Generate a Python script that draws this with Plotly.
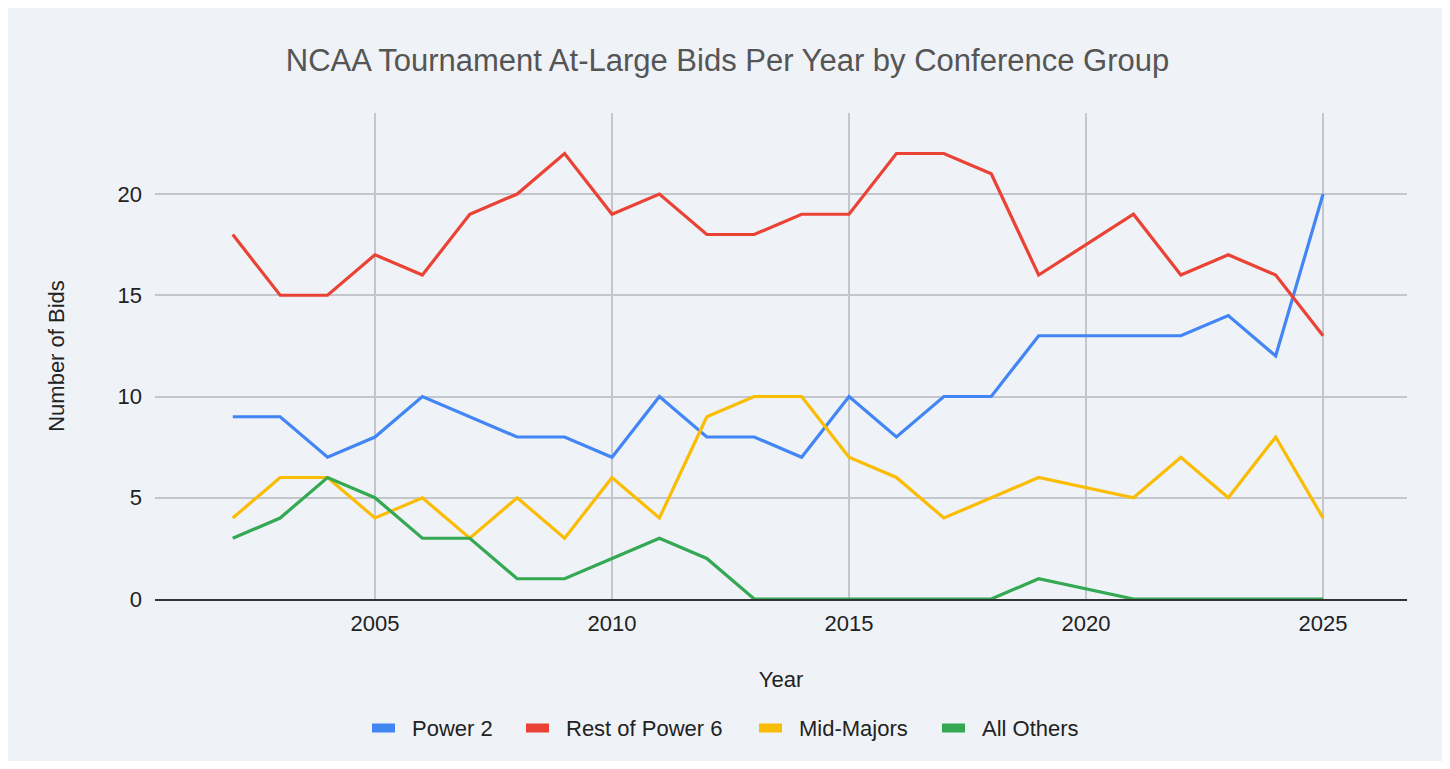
import plotly.graph_objects as go

BG = "#EFF2F7"
GRID = "#C3C6CB"
FONT = "Liberation Sans, Arial, sans-serif"

# 2020 tournament was cancelled, so there is no point for that year
years = [2002, 2003, 2004, 2005, 2006, 2007, 2008, 2009, 2010, 2011, 2012,
         2013, 2014, 2015, 2016, 2017, 2018, 2019, 2021, 2022, 2023, 2024, 2025]

power2 = [9, 9, 7, 8, 10, 9, 8, 8, 7, 10, 8, 8, 7, 10, 8, 10, 10, 13, 13, 13, 14, 12, 20]
rest_power6 = [18, 15, 15, 17, 16, 19, 20, 22, 19, 20, 18, 18, 19, 19, 22, 22, 21, 16, 19, 16, 17, 16, 13]
mid_majors = [4, 6, 6, 4, 5, 3, 5, 3, 6, 4, 9, 10, 10, 7, 6, 4, 5, 6, 5, 7, 5, 8, 4]
all_others = [3, 4, 6, 5, 3, 3, 1, 1, 2, 3, 2, 0, 0, 0, 0, 0, 0, 1, 0, 0, 0, 0, 0]

series = [
    ("Power 2", power2, "#4285F4"),
    ("Rest of Power 6", rest_power6, "#EA4335"),
    ("Mid-Majors", mid_majors, "#FBBC04"),
    ("All Others", all_others, "#34A853"),
]

# page is offset by the 8px body margin, so the figure is a bit smaller than the window
W, H = 1439, 753
ML, MR, MT, MB = 147, 40, 105, 162
PW, PH = W - ML - MR, H - MT - MB


def px_x(x):
    # figure pixel -> paper x
    return (x - ML) / PW


def px_y(y):
    return (MT + PH - y) / PH


fig = go.Figure()
for name, vals, color in series:
    fig.add_trace(go.Scatter(x=years, y=vals, mode="lines", name=name,
                             line=dict(color=color, width=3.2), showlegend=False))

# hand-made legend: short thick swatch + label, like the sheets chart
legend_x = [364, 518, 751, 934]
legend_y = 720
for (name, _, color), lx in zip(series, legend_x):
    fig.add_shape(type="rect", xref="paper", yref="paper",
                  x0=px_x(lx), x1=px_x(lx + 23),
                  y0=px_y(legend_y + 4.5), y1=px_y(legend_y - 4.5),
                  fillcolor=color, line=dict(width=0))
    fig.add_annotation(text=name, xref="paper", yref="paper",
                       x=px_x(lx + 38), y=px_y(legend_y), xanchor="left", yanchor="middle",
                       showarrow=False, font=dict(size=22, color="#222222"))

fig.update_layout(
    width=W, height=H,
    margin=dict(l=ML, r=MR, t=MT, b=MB),
    paper_bgcolor=BG, plot_bgcolor=BG,
    font=dict(family=FONT, color="#222222", size=22),
    showlegend=False,
    title=dict(text="NCAA Tournament At-Large Bids Per Year by Conference Group",
               x=0.5, xref="container", y=(H - 52) / H, yref="container", yanchor="middle",
               font=dict(size=31, color="#555555")),
    xaxis=dict(range=[2000.36, 2026.77], tickvals=[2005, 2010, 2015, 2020, 2025],
               showgrid=True, gridcolor=GRID, gridwidth=1.5, zeroline=False,
               showline=True, linecolor="#333333", linewidth=2,
               ticks="", ticklabelstandoff=4, tickfont=dict(size=22),
               title=dict(text="Year", standoff=36, font=dict(size=22))),
    yaxis=dict(range=[0, 24], tickvals=[0, 5, 10, 15, 20],
               showgrid=True, gridcolor=GRID, gridwidth=1.5, zeroline=False,
               showline=False, ticks="", ticklabelstandoff=12, tickfont=dict(size=22),
               title=dict(text="Number of Bids", standoff=46, font=dict(size=22))),
)

fig.write_html("out.html")
